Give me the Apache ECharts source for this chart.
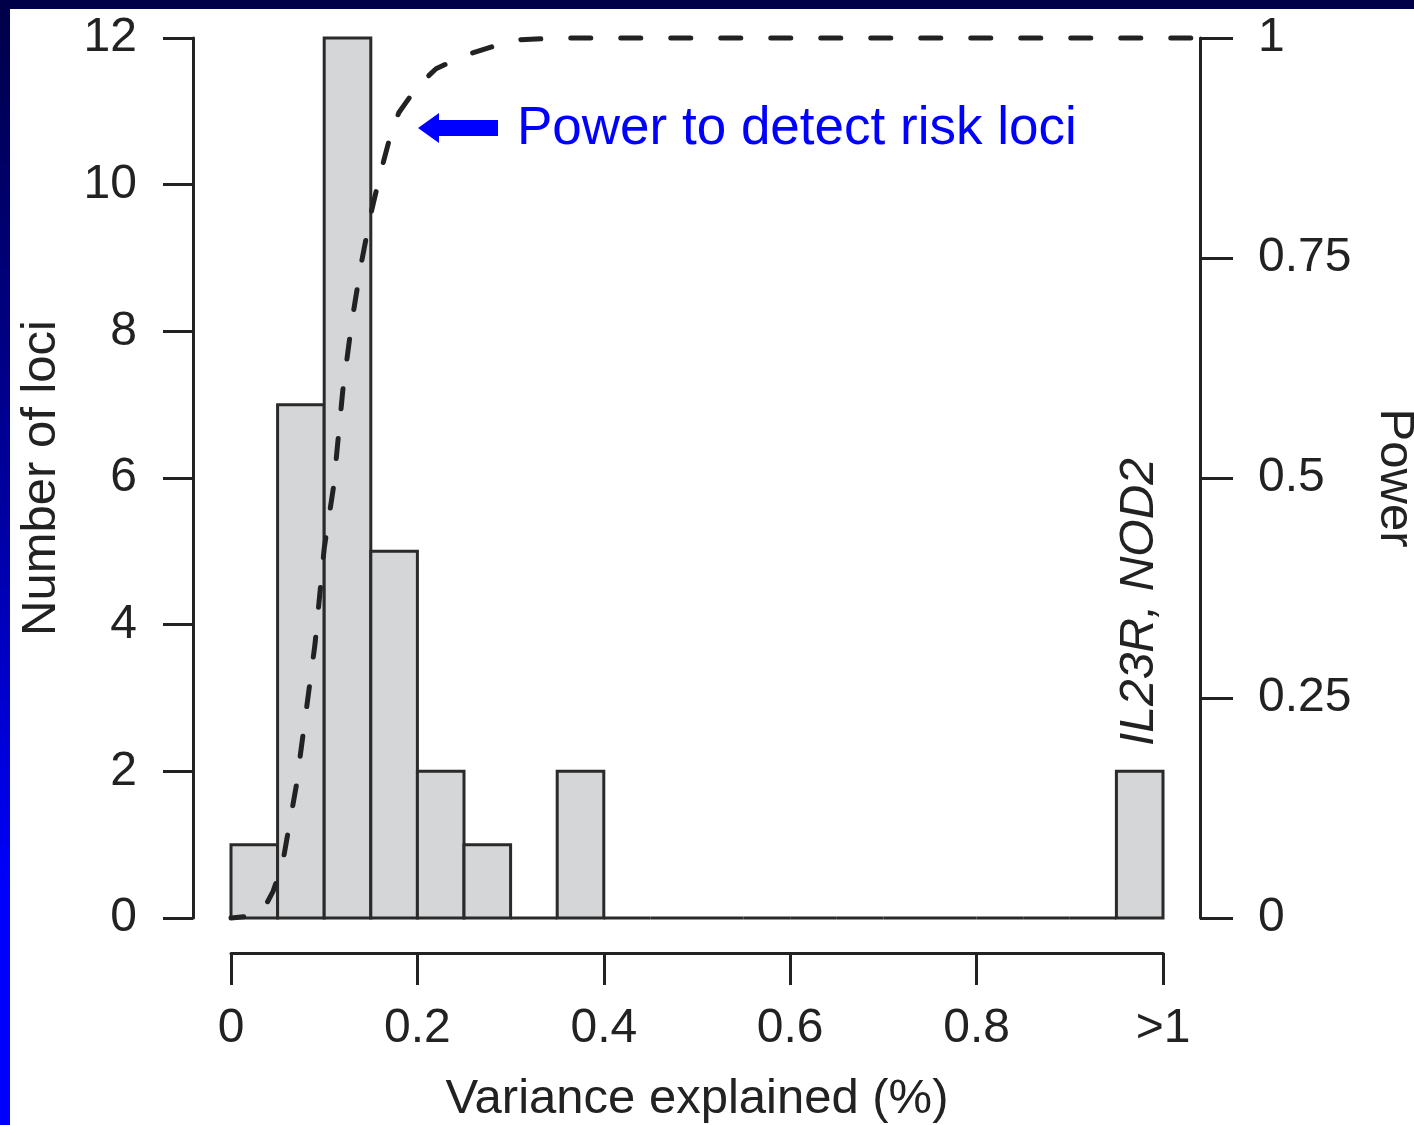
<!DOCTYPE html>
<html>
<head>
<meta charset="utf-8">
<script src="https://cdn.jsdelivr.net/npm/echarts@6/dist/echarts.min.js"></script>
<style>
  html, body { margin: 0; padding: 0; background: #ffffff; width: 1414px; height: 1125px; overflow: hidden; }
  #topbar { position: absolute; left: 0; top: 0; width: 1414px; height: 9px; background: #000048; }
  #leftbar { position: absolute; left: 0; top: 0; width: 10px; height: 1125px; background: linear-gradient(to bottom, #000048 0%, #0000a0 45%, #0000ff 80%, #0000ff 100%); }
  #chart { position: absolute; left: 0; top: 0; width: 1414px; height: 1125px; }
</style>
</head>
<body>
<div id="topbar"></div>
<div id="leftbar"></div>
<div id="chart"></div>
<script>
// Histogram bins (variance explained, %) and counts of loci
const binStarts = [0, 0.05, 0.10, 0.15, 0.20, 0.25, 0.30, 0.35, 0.40, 0.45, 0.50, 0.55, 0.60, 0.65, 0.70, 0.75, 0.80, 0.85, 0.90, 0.95];
const binEnds   = [0.05, 0.10, 0.15, 0.20, 0.25, 0.30, 0.35, 0.40, 0.45, 0.50, 0.55, 0.60, 0.65, 0.70, 0.75, 0.80, 0.85, 0.90, 0.95, 1.00];
const lociCounts = [1, 7, 12, 5, 2, 1, 0, 2, 0, 0, 0, 0, 0, 0, 0, 0, 0, 0, 0, 2];

// Power curve
const powerX = [0, 0.02, 0.035, 0.045, 0.055, 0.06, 0.07, 0.08, 0.09, 0.10, 0.11, 0.12, 0.13, 0.14, 0.15, 0.16, 0.17, 0.18, 0.20, 0.22, 0.25, 0.28, 0.31, 0.35, 1.04];
const powerY = [0, 0.002, 0.01, 0.03, 0.06, 0.09, 0.15, 0.23, 0.31, 0.42, 0.49, 0.60, 0.68, 0.745, 0.80, 0.845, 0.885, 0.915, 0.945, 0.965, 0.98, 0.99, 0.998, 1, 1];

// Tick labels
const xTickLabels = { 0: '0', 0.2: '0.2', 0.4: '0.4', 0.6: '0.6', 0.8: '0.8', 1: '>1' };

const FONT = "'Liberation Sans', Arial, Helvetica, sans-serif";
const INK = '#222222';
const DASH = [20, 30];

const histData = binStarts.map((s, i) => [s, binEnds[i], lociCounts[i]]);
const powerData = powerX.map((x, i) => [x, powerY[i]]);

const chart = echarts.init(document.getElementById('chart'), null, { renderer: 'canvas' });

const option = {
  backgroundColor: 'transparent',
  animation: false,
  textStyle: { fontFamily: FONT },
  grid: [
    { left: 231, right: 251, top: 38, bottom: 207, containLabel: false, outerBoundsMode: 'none' },
    { left: 231, right: 214, top: 38, bottom: 207, containLabel: false, outerBoundsMode: 'none' }
  ],
  xAxis: [
    {
      gridIndex: 0,
      type: 'value', min: 0, max: 1, interval: 0.2,
      offset: 35,
      splitLine: { show: false },
      axisLine: { show: true, onZero: false, lineStyle: { color: INK, width: 3 } },
      axisTick: { show: true, length: 32, lineStyle: { color: INK, width: 3 } },
      axisLabel: {
        color: INK, fontSize: 48, fontFamily: FONT, margin: 52,
        formatter: v => { const k = Math.round(v * 10) / 10; return xTickLabels[k] !== undefined ? xTickLabels[k] : String(k); }
      },
      name: 'Variance explained (%)',
      nameLocation: 'middle',
      nameGap: 122,
      nameTextStyle: { color: INK, fontSize: 49, fontFamily: FONT }
    },
    {
      // same scale as the visible axis, extended to the right-hand Power axis
      gridIndex: 1,
      type: 'value', min: 0, max: 969 / 932,
      show: false
    }
  ],
  yAxis: [
    {
      gridIndex: 0,
      type: 'value', min: 0, max: 12, interval: 2, position: 'left',
      offset: 38,
      splitLine: { show: false },
      axisLine: { show: true, onZero: false, lineStyle: { color: INK, width: 3 } },
      axisTick: { show: true, length: 30, lineStyle: { color: INK, width: 3 } },
      axisLabel: { color: INK, fontSize: 48, fontFamily: FONT, margin: 56 },
      name: 'Number of loci',
      nameLocation: 'middle',
      nameGap: 127,
      nameRotate: 90,
      nameTextStyle: { color: INK, fontSize: 49, fontFamily: FONT }
    },
    {
      gridIndex: 1,
      type: 'value', min: 0, max: 1, interval: 0.25, position: 'right',
      offset: 0,
      splitLine: { show: false },
      axisLine: { show: true, onZero: false, lineStyle: { color: INK, width: 3 } },
      axisTick: { show: true, length: 33, lineStyle: { color: INK, width: 3 } },
      axisLabel: { color: INK, fontSize: 48, fontFamily: FONT, margin: 58 },
      name: 'Power',
      nameLocation: 'middle',
      nameGap: 170,
      nameRotate: -90,
      nameTextStyle: { color: INK, fontSize: 49, fontFamily: FONT }
    }
  ],
  series: [
    {
      type: 'custom',
      xAxisIndex: 0, yAxisIndex: 0,
      clip: false,
      encode: { x: [0, 1], y: 2 },
      data: histData,
      z: 2,
      renderItem: function (params, api) {
        const p0 = api.coord([api.value(0), 0]);
        const p1 = api.coord([api.value(1), api.value(2)]);
        if (api.value(2) === 0) {
          return {
            type: 'line',
            shape: { x1: p0[0], y1: p0[1], x2: p1[0], y2: p0[1] },
            style: { stroke: '#2a2a2a', lineWidth: 3 }
          };
        }
        return {
          type: 'rect',
          shape: { x: p0[0], y: p1[1], width: p1[0] - p0[0], height: p0[1] - p1[1] },
          style: { fill: '#d5d6d8', stroke: '#2a2a2a', lineWidth: 3 }
        };
      }
    },
    {
      type: 'line',
      xAxisIndex: 1, yAxisIndex: 1,
      data: powerData,
      showSymbol: false,
      symbol: 'none',
      clip: false,
      z: 5,
      lineStyle: { color: INK, width: 5, type: DASH, cap: 'round', dashOffset: 0 }
    }
  ],
  graphic: [
    {
      type: 'polygon',
      shape: { points: [[418, 128], [439, 113], [439, 120], [498, 120], [498, 136], [439, 136], [439, 143]] },
      style: { fill: '#0000ff' },
      z: 10
    },
    {
      type: 'text',
      left: 517, top: 103,
      style: { text: 'Power to detect risk loci', fill: '#0000ff', font: "53px 'Liberation Sans', Arial, sans-serif" },
      z: 10
    },
    {
      type: 'text',
      x: 1140, y: 602,
      rotation: Math.PI / 2,
      style: { text: 'IL23R, NOD2', fill: INK, font: "italic 48px 'Liberation Sans', Arial, sans-serif", align: 'center', verticalAlign: 'middle' },
      z: 10
    }
  ]
};

chart.setOption(option);

// Align the dash phase so that the last dash ends just before the right axis
const px = powerData.map(d => chart.convertToPixel({ xAxisIndex: 1, yAxisIndex: 1 }, d));
let len = 0;
for (let i = 1; i < px.length; i++) len += Math.hypot(px[i][0] - px[i - 1][0], px[i][1] - px[i - 1][1]);
const period = DASH[0] + DASH[1];
const off = ((DASH[0] - (len - 9.5)) % period + period) % period;
chart.setOption({ series: [{}, { lineStyle: { dashOffset: off } }] });
</script>
</body>
</html>
